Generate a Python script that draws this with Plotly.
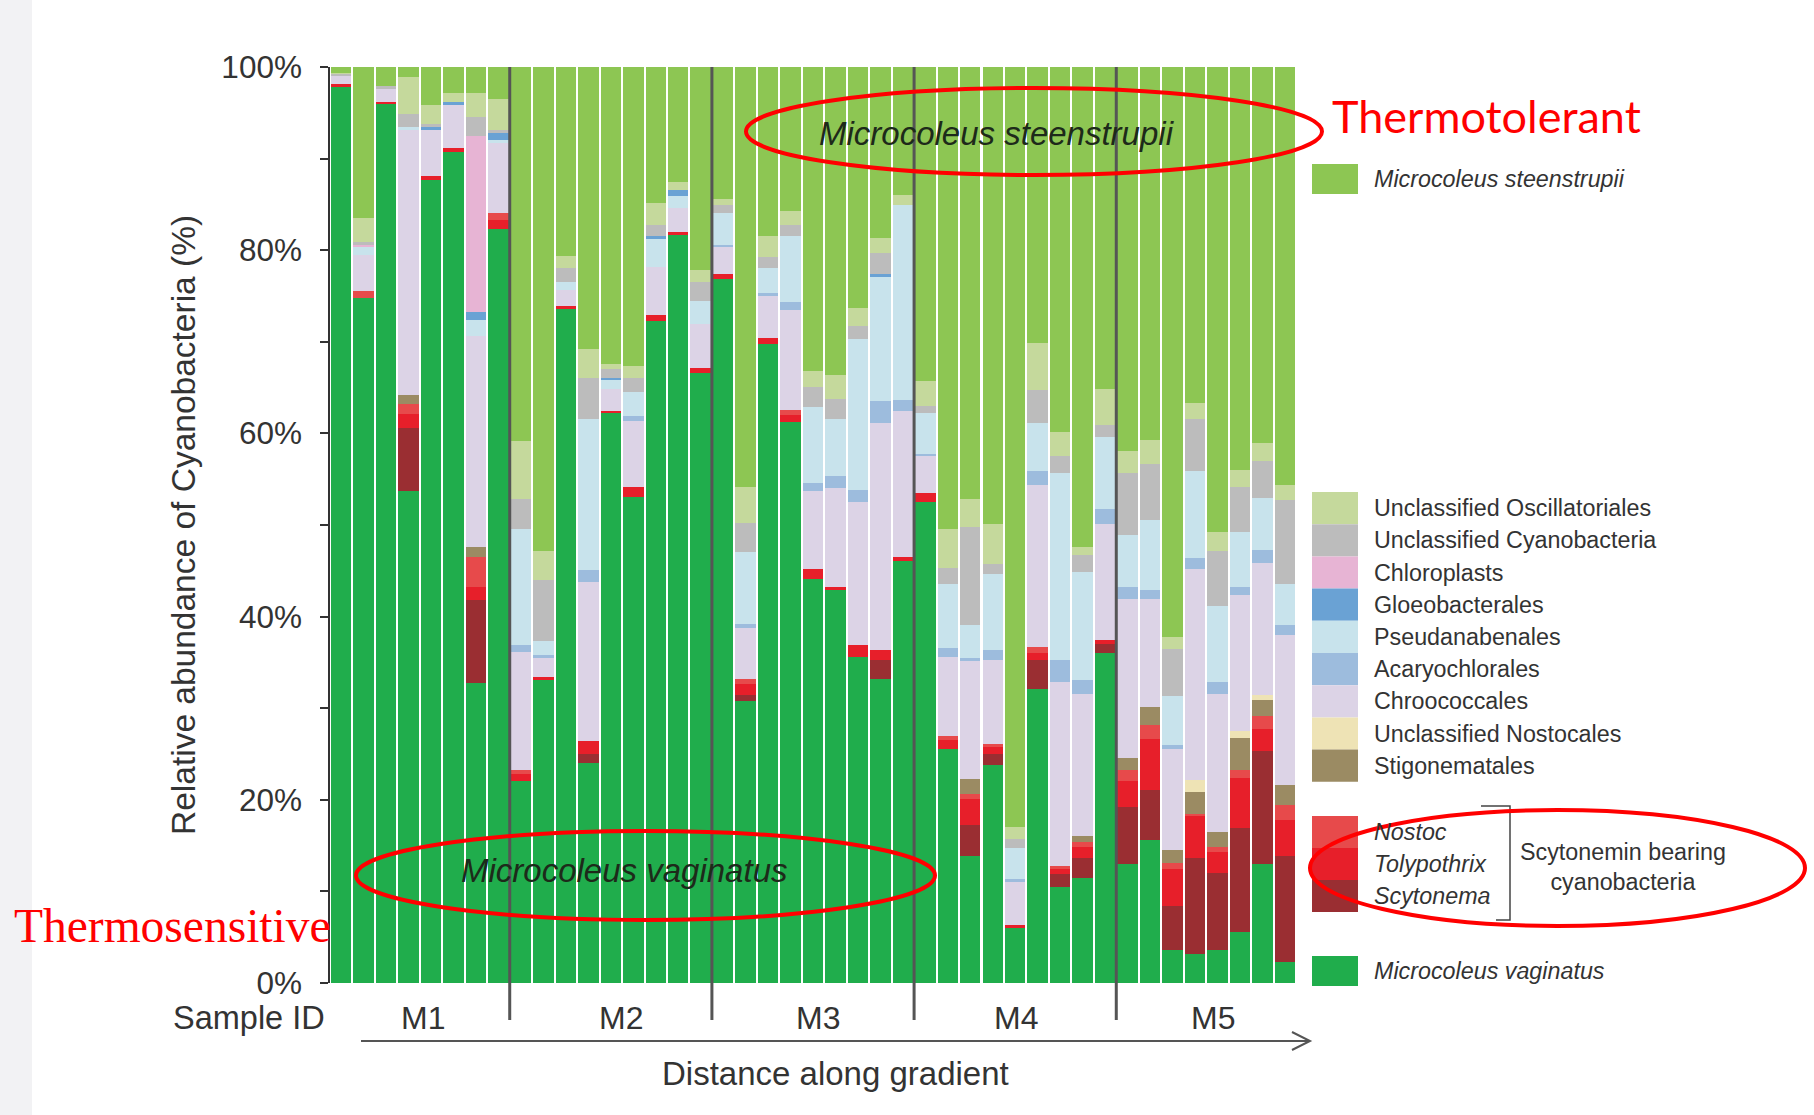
import plotly.graph_objects as go

# ---------------- data: relative abundance (%) per sample ----------------
groups = ["M1", "M2", "M3", "M4", "M5"]
group_sizes = [8, 9, 9, 9, 8]
samples = [f"{g}-{i + 1}" for g, n in zip(groups, group_sizes) for i in range(n)]

vaginatus = [97.8, 74.8, 96.0, 53.7, 87.7, 90.7, 32.7, 82.3,
             22.0, 33.1, 73.6, 24.0, 62.2, 53.1, 72.3, 81.7, 66.6,
             76.9, 30.8, 69.8, 61.2, 44.1, 43.0, 35.6, 33.2, 46.1,
             52.5, 25.6, 13.9, 23.8, 6.0, 32.1, 10.5, 11.5, 36.0,
             13.0, 15.6, 3.6, 3.2, 3.6, 5.6, 13.0, 2.3]
scytonema = [0, 0, 0, 6.9, 0, 0, 9.1, 0,
             0, 0, 0, 1.0, 0, 0, 0, 0, 0,
             0, 0.6, 0, 0, 0, 0, 0, 2.1, 0,
             0, 0, 3.4, 1.2, 0, 3.2, 1.4, 2.1, 1.0,
             6.2, 5.5, 4.8, 10.4, 8.4, 11.3, 12.3, 11.6]
tolypothrix = [0.3, 0, 0.2, 1.5, 0.4, 0.5, 1.4, 1.0,
               0.8, 0.3, 0.3, 1.4, 0.3, 1.0, 0.6, 0.3, 0.5,
               0.5, 1.2, 0.6, 0.8, 1.1, 0.2, 1.3, 1.0, 0.4,
               1.0, 0.9, 2.8, 0.8, 0.3, 0.7, 0.6, 1.3, 0.4,
               2.8, 5.5, 4.1, 4.6, 2.3, 5.5, 2.4, 3.9]
nostoc = [0, 0.7, 0, 1.1, 0, 0, 3.3, 0.8,
          0.5, 0, 0, 0, 0, 0, 0, 0, 0,
          0, 0.6, 0, 0.6, 0, 0, 0, 0, 0,
          0, 0.5, 0.5, 0.3, 0, 0.7, 0.3, 0.5, 0,
          1.3, 1.6, 0.6, 0.3, 0.6, 0.9, 1.5, 1.6]
stigonematales = [0, 0, 0, 1.0, 0, 0, 1.1, 0,
                  0, 0, 0, 0, 0, 0, 0, 0, 0,
                  0, 0, 0, 0, 0, 0, 0, 0, 0,
                  0, 0, 1.7, 0, 0, 0, 0, 0.6, 0,
                  1.3, 1.9, 1.4, 2.4, 1.6, 3.5, 1.7, 2.2]
uncl_nostocales = [0, 0, 0, 0, 0, 0, 0, 0,
                   0, 0, 0, 0, 0, 0, 0, 0, 0,
                   0, 0, 0, 0, 0, 0, 0, 0, 0,
                   0, 0, 0, 0, 0, 0, 0, 0, 0,
                   0, 0, 0, 1.3, 0, 0.7, 0.5, 0]
chroococcales = [1.0, 4.0, 1.4, 28.9, 5.0, 4.7, 23.0, 7.6,
                 12.8, 2.1, 1.8, 17.4, 2.3, 7.3, 5.3, 2.6, 4.8,
                 3.0, 5.6, 4.6, 10.9, 8.5, 10.8, 15.6, 24.8, 15.9,
                 4.0, 8.6, 12.8, 9.2, 4.7, 17.7, 20.1, 15.6, 12.7,
                 17.3, 11.8, 11.1, 23.0, 15.1, 14.9, 14.4, 16.4]
acaryochlorales = [0, 0, 0, 0, 0, 0, 0, 0,
                   0.8, 0.3, 0, 1.3, 0, 0.5, 0, 0, 0,
                   0.2, 0.4, 0.3, 0.9, 0.9, 1.4, 1.3, 2.4, 1.3,
                   0.3, 1.0, 0.4, 1.0, 0.3, 1.5, 2.4, 1.5, 1.7,
                   1.3, 1.0, 0.4, 1.2, 1.3, 0.8, 1.5, 1.1]
pseudanabenales = [0, 0.8, 0, 0.3, 0, 0, 1.8, 0.3,
                   12.7, 1.5, 0.8, 16.5, 1.0, 2.6, 3.1, 1.3, 2.6,
                   3.5, 7.8, 2.8, 7.2, 8.3, 6.2, 16.5, 13.6, 21.2,
                   4.4, 7.0, 3.6, 8.4, 3.4, 5.2, 20.4, 11.8, 7.8,
                   5.7, 7.6, 5.3, 9.5, 8.3, 6.0, 5.6, 4.5]
gloeobacterales = [0, 0, 0, 0, 0.4, 0.3, 0.8, 0.8,
                   0, 0, 0, 0, 0.3, 0, 0.2, 0.7, 0,
                   0, 0, 0, 0, 0, 0, 0, 0.3, 0,
                   0, 0, 0, 0, 0, 0, 0, 0, 0,
                   0, 0, 0, 0, 0, 0, 0, 0]
chloroplasts = [0, 0.3, 0, 0, 0, 0, 19.3, 0,
                0, 0, 0, 0, 0, 0, 0, 0, 0,
                0, 0, 0, 0, 0, 0, 0, 0, 0,
                0, 0, 0, 0, 0, 0, 0, 0, 0,
                0, 0, 0, 0, 0, 0, 0, 0]
uncl_cyanobacteria = [0.2, 0.3, 0.3, 1.5, 0.3, 0, 2.0, 0.3,
                      3.2, 6.7, 1.6, 4.5, 0.9, 1.6, 1.3, 0, 2.0,
                      0.8, 3.2, 1.2, 1.1, 2.2, 2.2, 1.4, 2.3, 0,
                      0.8, 1.7, 10.7, 1.0, 1.0, 3.6, 1.8, 1.8, 1.3,
                      6.8, 6.2, 5.2, 5.7, 6.0, 5.0, 4.1, 9.1]
uncl_oscillatoriales = [0.1, 2.6, 0, 4.0, 2.0, 1.0, 2.7, 3.4,
                        6.4, 3.2, 1.3, 3.1, 0.6, 1.3, 2.4, 0.9, 1.3,
                        0.7, 4.0, 2.3, 1.6, 1.7, 2.6, 2.0, 1.6, 1.1,
                        2.7, 4.3, 3.0, 4.4, 1.3, 5.2, 2.6, 0.9, 3.9,
                        2.4, 2.6, 1.3, 1.7, 2.0, 1.8, 1.9, 1.7]
steenstrupii = [0.6, 16.5, 2.1, 1.1, 4.2, 2.8, 2.8, 3.5,
                40.8, 52.8, 20.6, 30.8, 32.4, 32.6, 14.8, 12.5, 22.2,
                14.4, 45.8, 18.4, 15.7, 33.2, 33.6, 26.3, 18.7, 14.0,
                34.3, 50.4, 47.2, 49.9, 83.0, 30.1, 39.9, 52.4, 35.2,
                41.9, 40.7, 62.2, 36.7, 50.8, 44.0, 41.1, 45.6]

y_ticks = [0, 10, 20, 30, 40, 50, 60, 70, 80, 90, 100]
y_tick_text = ["0%", "", "20%", "", "40%", "", "60%", "", "80%", "", "100%"]

# stacking order, bottom to top
series = [
    ("Microcoleus vaginatus", vaginatus, "#20ad4c"),
    ("Scytonema", scytonema, "#9a2e32"),
    ("Tolypothrix", tolypothrix, "#e71f2a"),
    ("Nostoc", nostoc, "#e74a4b"),
    ("Stigonematales", stigonematales, "#9b8b63"),
    ("Unclassified Nostocales", uncl_nostocales, "#eee3b5"),
    ("Chroococcales", chroococcales, "#dcd3e6"),
    ("Acaryochlorales", acaryochlorales, "#9dbcdd"),
    ("Pseudanabenales", pseudanabenales, "#c8e3ec"),
    ("Gloeobacterales", gloeobacterales, "#6aa2d4"),
    ("Chloroplasts", chloroplasts, "#e7b4d4"),
    ("Unclassified Cyanobacteria", uncl_cyanobacteria, "#bcbcbc"),
    ("Unclassified Oscillatoriales", uncl_oscillatoriales, "#c5d99c"),
    ("Microcoleus steenstrupii", steenstrupii, "#8dc653"),
]
colors = {name: col for name, _, col in series}

# ---------------- page geometry ----------------
W, H = 1814, 1115
L, R, T, B = 330, 518, 67, 132
PW, PH = W - L - R, H - T - B
FONT = "Liberation Sans, Arial, sans-serif"
TXT = "#333333"
RED = "#ff0000"


def px(x):
    return (x - L) / PW


def py(y):
    return (H - B - y) / PH


fig = go.Figure()
for name, vals, col in series:
    fig.add_trace(go.Bar(x=samples, y=vals, name=name, marker_color=col,
                         marker_line_width=0, showlegend=False))

shapes = []
annotations = []

# faint grey strip at the left edge of the page
shapes.append(dict(type="rect", xref="paper", yref="paper", x0=px(0), x1=px(32),
                   y0=py(H), y1=py(0), fillcolor="#f2f2f4", line_width=0, layer="below"))

# separators between sampling sites
n = len(samples)
acc = 0
for size in group_sizes[:-1]:
    acc += size
    shapes.append(dict(type="line", xref="paper", yref="paper", x0=acc / n, x1=acc / n,
                       y0=py(1020), y1=1, line=dict(color="#555555", width=3)))

# site labels (pixel centres on the page)
label_x = [423, 621, 818, 1016, 1213]
for g, lx in zip(groups, label_x):
    annotations.append(dict(text=g, xref="paper", yref="paper", x=px(lx),
                            y=py(1018), showarrow=False, xanchor="center", yanchor="middle",
                            font=dict(family=FONT, size=32, color=TXT)))

annotations.append(dict(text="Sample ID", xref="paper", yref="paper", x=px(327), y=py(1018),
                        showarrow=False, xanchor="right", yanchor="middle",
                        font=dict(family=FONT, size=32.5, color=TXT)))

# gradient arrow
ay = py(1041)
shapes.append(dict(type="line", xref="paper", yref="paper", x0=px(361), x1=px(1310),
                   y0=ay, y1=ay, line=dict(color="#555555", width=2)))
shapes.append(dict(type="path", xref="paper", yref="paper",
                   path=f"M {px(1292)},{py(1032)} L {px(1310)},{ay} L {px(1292)},{py(1050)}",
                   line=dict(color="#555555", width=2)))
annotations.append(dict(text="Distance along gradient", xref="paper", yref="paper",
                        x=px(835), y=py(1073), showarrow=False, xanchor="center",
                        yanchor="middle", font=dict(family=FONT, size=33, color=TXT)))

# y-axis title
annotations.append(dict(text="Relative abundance of Cyanobacteria (%)", xref="paper",
                        yref="paper", x=px(183), y=py(525), textangle=-90, showarrow=False,
                        xanchor="center", yanchor="middle",
                        font=dict(family=FONT, size=33.5, color=TXT)))

# in-plot species labels with red ellipses
annotations.append(dict(text="<i>Microcoleus steenstrupii</i>", xref="paper", yref="paper",
                        x=px(997), y=py(133), showarrow=False, xanchor="center",
                        yanchor="middle", font=dict(family=FONT, size=33, color="#1d2a1a")))
shapes.append(dict(type="circle", xref="paper", yref="paper", x0=px(746), x1=px(1322),
                   y0=py(175), y1=py(88), line=dict(color=RED, width=4)))
annotations.append(dict(text="<i>Microcoleus vaginatus</i>", xref="paper", yref="paper",
                        x=px(624), y=py(870), showarrow=False, xanchor="center",
                        yanchor="middle", font=dict(family=FONT, size=33, color="#1d2a1a")))
shapes.append(dict(type="circle", xref="paper", yref="paper", x0=px(356), x1=px(935),
                   y0=py(920), y1=py(831), line=dict(color=RED, width=4)))

annotations.append(dict(text="Thermotolerant", xref="paper", yref="paper", x=px(1330),
                        y=py(116), showarrow=False, xanchor="left", yanchor="middle",
                        font=dict(family="Lato, sans-serif", size=45, color=RED)))
annotations.append(dict(text="Thermosensitive", xref="paper", yref="paper", x=px(12),
                        y=py(926), showarrow=False, xanchor="left", yanchor="middle",
                        font=dict(family="Liberation Serif, Times New Roman, serif",
                                  size=47.5, color=RED)))

# ---------------- hand-built legend ----------------
SW0, SW1, TX = 1312, 1358, 1372
LEG = 23.3


def legend_row(name, top, bottom, label, italic=False):
    shapes.append(dict(type="rect", xref="paper", yref="paper", x0=px(SW0), x1=px(SW1),
                       y0=py(bottom), y1=py(top), fillcolor=colors[name], line_width=0))
    txt = f"<i>{label}</i>" if italic else label
    annotations.append(dict(text=txt, xref="paper", yref="paper", x=px(TX),
                            y=py((top + bottom) / 2), showarrow=False, xanchor="left",
                            yanchor="middle", font=dict(family=FONT, size=LEG, color=TXT)))


legend_row("Microcoleus steenstrupii", 164, 194, "Microcoleus steenstrupii", italic=True)

block = ["Unclassified Oscillatoriales", "Unclassified Cyanobacteria", "Chloroplasts",
         "Gloeobacterales", "Pseudanabenales", "Acaryochlorales", "Chroococcales",
         "Unclassified Nostocales", "Stigonematales"]
step = 32.2
for i, name in enumerate(block):
    legend_row(name, 492 + i * step, 492 + (i + 1) * step, name)

for i, name in enumerate(["Nostoc", "Tolypothrix", "Scytonema"]):
    legend_row(name, 816 + i * 32, 816 + (i + 1) * 32, name, italic=True)

legend_row("Microcoleus vaginatus", 956, 986, "Microcoleus vaginatus", italic=True)

# bracket grouping the scytonemin producers
shapes.append(dict(type="path", xref="paper", yref="paper",
                   path=(f"M {px(1481)},{py(806)} L {px(1510)},{py(806)} "
                         f"L {px(1510)},{py(920)} L {px(1496)},{py(920)}"),
                   line=dict(color="#444444", width=1.5)))
annotations.append(dict(text="Scytonemin bearing<br>cyanobacteria", xref="paper",
                        yref="paper", x=px(1623), y=py(867), showarrow=False,
                        xanchor="center", yanchor="middle", align="center",
                        font=dict(family=FONT, size=LEG, color=TXT)))
shapes.append(dict(type="circle", xref="paper", yref="paper", x0=px(1310), x1=px(1805),
                   y0=py(926), y1=py(810), line=dict(color=RED, width=4)))

fig.update_layout(
    width=W, height=H, autosize=False,
    margin=dict(l=L, r=R, t=T, b=B, pad=0),
    paper_bgcolor="white", plot_bgcolor="white",
    barmode="stack", bargap=0.09,
    xaxis=dict(showticklabels=False, showline=False, showgrid=False, zeroline=False,
               ticks="", range=[-0.5, n - 0.5], fixedrange=True),
    yaxis=dict(range=[0, 100], tickvals=y_ticks, ticktext=y_tick_text, ticks="outside",
               ticklen=8, tickwidth=1.5, tickcolor="#333333", showline=True,
               linecolor="#333333", linewidth=1.5, showgrid=False, zeroline=False,
               ticklabelstandoff=12, tickfont=dict(family=FONT, size=31.5, color=TXT)),
    shapes=shapes, annotations=annotations,
    showlegend=False,
)

fig.write_html("out.html")
